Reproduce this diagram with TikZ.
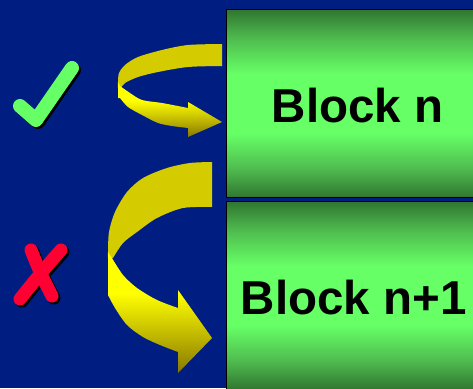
\documentclass[tikz,border=0pt]{standalone}
\usepackage{fontspec}
\setmainfont{Liberation Sans}
\definecolor{bgblue}{RGB}{0,30,130}
\definecolor{blockdark}{RGB}{48,118,48}
\definecolor{blockmid}{RGB}{80,190,80}
\definecolor{blockbright}{RGB}{102,255,102}
\definecolor{ribbonback}{RGB}{212,204,0}
\definecolor{ribbonbright}{RGB}{255,255,0}
\definecolor{ribbondark}{RGB}{135,120,0}
\definecolor{tickgreen}{RGB}{102,255,102}
\definecolor{crossred}{RGB}{255,0,51}
% block fill: dark at the top and bottom edges, bright band in the middle
\pgfdeclareverticalshading{blockshade}{100bp}{%
  color(0bp)=(blockdark); color(25bp)=(blockdark); color(33bp)=(blockmid);
  color(42bp)=(blockbright); color(58bp)=(blockbright);
  color(67bp)=(blockmid); color(75bp)=(blockdark); color(100bp)=(blockdark)}
% front of a ribbon arrow: bright above, darkening towards the head
\pgfdeclareverticalshading{ribbonshade}{100bp}{%
  color(0bp)=(ribbondark); color(25bp)=(ribbondark);
  color(58bp)=(ribbonbright); color(75bp)=(ribbonbright); color(100bp)=(ribbonbright)}
\tikzset{
  blockbox/.style={draw=black, line width=1.2pt, shading=blockshade,
    minimum width=258pt, minimum height=188pt, inner sep=0pt, anchor=north west},
  blocklabel/.style={font=\bfseries\fontsize{47.5}{52}\selectfont, inner sep=0pt, anchor=base},
  ribbonbackpart/.style={fill=ribbonback},
  ribbonfront/.style={shading=ribbonshade},
  tickline/.style={line width=14pt, line cap=round, line join=round},
  crossline/.style={line width=13pt, line cap=round, line join=round},
}
\begin{document}
\begin{tikzpicture}[x=1pt, y=-1pt]
\useasboundingbox (0,0) rectangle (473,388);
\fill[bgblue] (0,0) rectangle (473,388);
\begin{scope}
\clip (0,0) rectangle (473,388);

% the two blocks
\node[blockbox] (bn) at (226,9) {};
\node[blockbox] (bn1) at (226,201) {};
\node[blocklabel] (bnlabel) at ([xshift=2pt, yshift=-19pt]bn.center) {Block n};
\node[blocklabel] (bn1label) at ([xshift=-2pt, yshift=-19pt]bn1.center) {Block n+1};

% small loop arrow (upper)
\fill[ribbonbackpart] (222,44) -- plot[smooth] coordinates
  {(222,44) (188,45) (162,50) (138,57) (125,65) (119,73) (118,82) (118,88)}
  -- plot[smooth] coordinates {(121,88) (125,83) (138,77) (158,72) (188,67) (222,66)}
  -- cycle;
\shade[ribbonfront] (118,82) -- plot[smooth] coordinates
  {(120,86) (130,93) (142,100) (162,103) (188,108)}
  -- (188,102) -- (222,122) -- (188,137) -- (188,128)
  -- plot[smooth] coordinates {(188,128) (172,126) (158,123) (142,115) (128,107) (120,98)}
  -- (118,98) -- cycle;

% large loop arrow (lower)
\fill[ribbonbackpart] (212,162) -- plot[smooth] coordinates
  {(212,162) (190,163) (167,168) (143,178) (127,192) (115,212) (109,232) (108,252) (108,258)}
  -- plot[smooth] coordinates {(113,258) (123,243) (137,232) (157,218) (183,208) (212,207)}
  -- cycle;
\shade[ribbonfront] (108,252) -- plot[smooth] coordinates
  {(112,258) (123,275) (137,288) (157,300) (178,308)}
  -- (178,290) -- (212,338) -- (178,373) -- (178,352)
  -- plot[smooth] coordinates {(178,352) (160,345) (143,337) (127,325) (115,308) (108,295)}
  -- cycle;

% tick mark with its shadow
\draw[tickline, black] (22,108) -- (38,122) -- (74,70);
\draw[tickline, tickgreen] (20,106) -- (36,120) -- (72,68);

% cross with its shadow
\begin{scope}[shift={(2,2)}]
\draw[crossline, black] plot[smooth] coordinates {(31,250) (41,274) (52,296)};
\draw[crossline, black] plot[smooth] coordinates {(61,250) (41,273) (20,299)};
\end{scope}
\draw[crossline, crossred] plot[smooth] coordinates {(31,250) (41,274) (52,296)};
\draw[crossline, crossred] plot[smooth] coordinates {(61,250) (41,273) (20,299)};
\end{scope}
\end{tikzpicture}
\end{document}
